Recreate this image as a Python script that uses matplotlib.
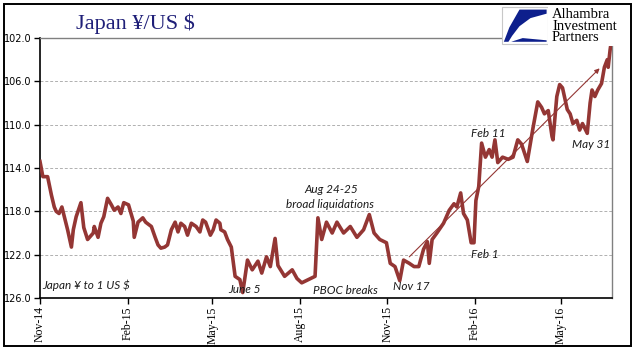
import matplotlib
matplotlib.use("Agg")
import matplotlib.pyplot as plt
import matplotlib.dates as mdates
from matplotlib.patches import Rectangle, Polygon
import pandas as pd

# USD/JPY (eixo invertido)
datas = [
    "2014-11-01", "2014-11-04", "2014-11-09", "2014-11-13", "2014-11-16", "2014-11-18",
    "2014-11-21", "2014-11-24", "2014-11-26", "2014-11-30", "2014-12-04", "2014-12-06",
    "2014-12-09", "2014-12-14", "2014-12-17", "2014-12-21", "2014-12-27", "2014-12-28",
    "2015-01-01", "2015-01-04", "2015-01-07", "2015-01-11", "2015-01-15", "2015-01-18",
    "2015-01-22", "2015-01-25", "2015-01-28", "2015-02-02", "2015-02-07", "2015-02-08",
    "2015-02-12", "2015-02-17", "2015-02-20", "2015-02-26", "2015-03-02", "2015-03-05",
    "2015-03-08", "2015-03-12", "2015-03-15", "2015-03-19", "2015-03-23", "2015-03-26",
    "2015-03-29", "2015-04-02", "2015-04-05", "2015-04-09", "2015-04-14", "2015-04-18",
    "2015-04-21", "2015-04-24", "2015-04-29", "2015-05-02", "2015-05-05", "2015-05-09",
    "2015-05-10", "2015-05-14", "2015-05-17", "2015-05-21", "2015-05-25", "2015-05-30",
    "2015-06-02", "2015-06-07", "2015-06-12", "2015-06-18", "2015-06-22", "2015-06-27",
    "2015-07-01", "2015-07-06", "2015-07-09", "2015-07-16", "2015-07-24", "2015-07-29",
    "2015-08-03", "2015-08-10", "2015-08-17", "2015-08-20", "2015-08-24", "2015-08-29",
    "2015-09-04", "2015-09-09", "2015-09-16", "2015-09-23", "2015-09-30", "2015-10-07",
    "2015-10-13", "2015-10-18", "2015-10-24", "2015-10-31", "2015-11-04", "2015-11-09",
    "2015-11-14", "2015-11-18", "2015-11-24", "2015-11-29", "2015-12-04", "2015-12-09",
    "2015-12-13", "2015-12-15", "2015-12-18", "2015-12-23", "2015-12-30", "2016-01-05",
    "2016-01-10", "2016-01-13", "2016-01-17", "2016-01-20", "2016-01-24", "2016-01-28",
    "2016-01-31", "2016-02-02", "2016-02-05", "2016-02-08", "2016-02-12", "2016-02-16",
    "2016-02-19", "2016-02-22", "2016-02-25", "2016-03-01", "2016-03-07", "2016-03-12",
    "2016-03-17", "2016-03-21", "2016-03-27", "2016-04-02", "2016-04-07", "2016-04-11",
    "2016-04-14", "2016-04-18", "2016-04-22", "2016-04-23", "2016-04-27", "2016-04-30",
    "2016-05-03", "2016-05-08", "2016-05-11", "2016-05-14", "2016-05-18", "2016-05-21",
    "2016-05-24", "2016-05-29", "2016-06-01", "2016-06-03", "2016-06-06", "2016-06-09",
    "2016-06-13", "2016-06-16", "2016-06-19", "2016-06-20", "2016-06-22", "2016-06-23",
]
ienes = [
    113.4, 114.8, 114.8, 116.5, 117.6, 118.0,
    118.2, 117.6, 118.3, 119.7, 121.3, 119.7,
    118.5, 117.2, 119.5, 120.6, 120.0, 119.4,
    120.4, 119.1, 118.5, 116.8, 117.4, 117.9,
    117.6, 118.2, 117.2, 117.4, 118.9, 120.4,
    119.0, 118.6, 119.0, 119.4, 120.4, 121.1,
    121.4, 121.3, 121.1, 119.7, 119.0, 119.9,
    119.1, 119.4, 120.2, 119.1, 119.4, 119.9,
    118.8, 119.0, 120.2, 119.7, 118.8, 119.1,
    119.7, 119.9, 120.6, 121.3, 124.0, 124.3,
    125.5, 122.5, 123.4, 122.6, 123.7, 122.2,
    123.1, 120.5, 123.0, 124.0, 123.4, 124.2,
    124.6, 124.3, 124.0, 118.6, 120.6, 119.0,
    120.0, 119.0, 120.0, 119.4, 120.4, 119.7,
    118.3, 120.0, 120.6, 120.9, 122.8, 123.1,
    124.4, 122.5, 122.8, 123.1, 123.1, 121.5,
    120.8, 122.8, 120.6, 120.0, 119.1, 117.9,
    117.3, 117.6, 116.3, 118.2, 118.8, 120.9,
    120.9, 117.0, 115.7, 111.7, 113.0, 112.3,
    113.0, 111.4, 113.5, 113.0, 113.2, 113.0,
    111.4, 111.8, 113.4, 110.3, 107.9, 108.4,
    109.0, 108.7, 111.1, 111.4, 107.4, 106.3,
    106.6, 108.6, 109.0, 109.9, 109.6, 110.5,
    109.9, 110.8, 108.0, 106.8, 107.4, 106.8,
    106.2, 104.7, 104.0, 104.7, 103.1, 102.5,
]

# linha de tendencia (Nov 17 -> fim)
seta_datas = ["2015-11-24", "2016-06-11"]
seta_ienes = [122.2, 104.8]

ticks_y = [102, 106, 110, 114, 118, 122, 126]
ticks_x = ["2014-11-01", "2015-02-01", "2015-05-01", "2015-08-01",
           "2015-11-01", "2016-02-01", "2016-05-01"]

# (texto, data, valor)
notas = [
    ("June 5", "2015-06-04", 125.2),
    ("PBOC breaks", "2015-09-18", 125.3),
    ("Nov 17", "2015-11-26", 124.9),
    ("Feb 1", "2016-02-11", 122.0),
    ("Feb 11", "2016-02-15", 110.8),
    ("May 31", "2016-06-02", 111.8),
    ("Aug 24-25", "2015-09-03", 116.0),
    ("broad liquidations", "2015-09-02", 117.4),
]

cor = "#943634"
t = pd.to_datetime(datas)

fig = plt.figure(figsize=(6.41, 3.61), dpi=100)
ax = fig.add_axes([40 / 641, 1 - 298 / 361, 572 / 641, 260 / 361])

ax.plot(t, ienes, color=cor, linewidth=2.6, solid_joinstyle="round", zorder=3)
ax.annotate("", xy=(pd.Timestamp(seta_datas[1]), seta_ienes[1]),
            xytext=(pd.Timestamp(seta_datas[0]), seta_ienes[0]),
            arrowprops=dict(arrowstyle="-|>", color=cor, lw=0.8,
                            mutation_scale=7, shrinkA=0, shrinkB=0), zorder=4)

ax.set_ylim(126, 102)
ax.set_xlim(pd.Timestamp("2014-11-01"), pd.Timestamp("2016-06-24"))
ax.set_yticks(ticks_y)
ax.set_yticklabels([f"{v:.1f}" for v in ticks_y], fontsize=7, family="DejaVu Sans")
ax.set_xticks(pd.to_datetime(ticks_x))
ax.xaxis.set_major_formatter(mdates.DateFormatter("%b-%y"))
for lbl in ax.get_xticklabels():
    lbl.set_rotation(90)
    lbl.set_family("Liberation Serif")
    lbl.set_fontsize(8.5)
ax.tick_params(axis="both", direction="out", length=4, width=1, color="black", pad=2)

ax.grid(axis="y", color="#b0b0b0", linestyle=(0, (3, 2)), linewidth=0.7)
ax.spines["left"].set_color("black")
ax.spines["bottom"].set_color("black")
ax.spines["left"].set_linewidth(1.2)
ax.spines["bottom"].set_linewidth(1.2)
ax.spines["top"].set_color("#808080")
ax.spines["right"].set_color("#808080")
ax.spines["top"].set_linewidth(1.0)
ax.spines["right"].set_linewidth(1.0)

fonte_nota = dict(fontsize=8.5, style="italic", family="Lato", color="#1a1a1a")
ax.text(0.004, 0.05, "Japan ¥ to 1 US $", transform=ax.transAxes,
        ha="left", va="center", **fonte_nota)
for texto, d, v in notas:
    ax.text(pd.Timestamp(d), v, texto, ha="center", va="center", **fonte_nota)

# titulo
fig.text(135 / 641, 1 - 24 / 361, "Japan ¥/US $", ha="center", va="center",
         fontsize=16, family="Liberation Serif", color="#1f1f78")

# logo Alhambra
lx, ly, lw_, lh = 502 / 641, 1 - 44 / 361, 46 / 641, 37 / 361
fig.patches.append(Rectangle((lx, ly), lw_, lh, transform=fig.transFigure,
                             facecolor="white", edgecolor="#c8c8c8", lw=0.8, zorder=5))
def logo_pts(pts):
    return [(lx + px * lw_, ly + py * lh) for px, py in pts]
fig.patches.append(Polygon(logo_pts([(0.38, 0.93), (0.97, 0.93), (0.97, 0.82), (0.62, 0.70),
                                     (0.38, 0.48), (0.22, 0.22), (0.14, 0.06), (0.04, 0.06),
                                     (0.16, 0.45)]),
                           transform=fig.transFigure, facecolor="#0d1f8c",
                           edgecolor="none", zorder=6))
fig.patches.append(Polygon(logo_pts([(0.20, 0.06), (0.97, 0.06), (0.97, 0.10), (0.45, 0.16)]),
                           transform=fig.transFigure, facecolor="#0d1f8c",
                           edgecolor="none", zorder=6))
fig.patches.append(Rectangle((548 / 641, 1 - 46 / 361), 80 / 641, 42 / 361,
                             transform=fig.transFigure, facecolor="white",
                             edgecolor="none", zorder=5))
fig.text(552 / 641, 1 - 26 / 361, "Alhambra\nInvestment\nPartners", ha="left", va="center",
         fontsize=10.5, family="Liberation Serif", linespacing=0.82, zorder=7)

# moldura externa
fig.patches.append(Rectangle((4 / 641, 1 - 346 / 361), 627 / 641, 342 / 361,
                             transform=fig.transFigure, facecolor="none",
                             edgecolor="black", lw=1.4, zorder=8))

fig.savefig("out.png", dpi=100)
